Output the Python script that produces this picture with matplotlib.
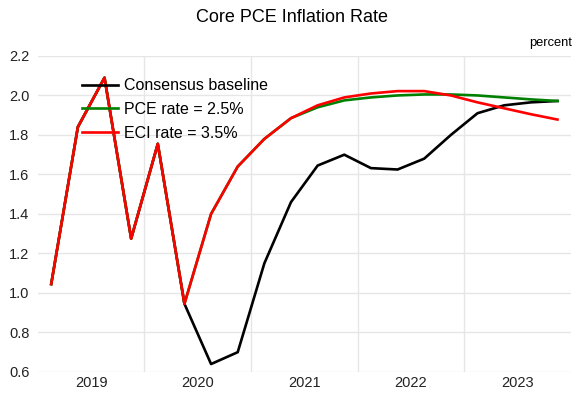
import matplotlib.pyplot as plt

plt.rcParams['font.family'] = ['Liberation Sans', 'DejaVu Sans']

years = ["2019", "2020", "2021", "2022", "2023"]
quarters = list(range(20))

consensus = [1.045, 1.84, 2.09, 1.275, 1.755, 0.945, 0.64, 0.70, 1.15, 1.46,
             1.645, 1.70, 1.632, 1.625, 1.68, 1.80, 1.91, 1.95, 1.965, 1.972]
pce_rate = [1.045, 1.84, 2.09, 1.275, 1.755, 0.945, 1.40, 1.64, 1.78, 1.885,
            1.94, 1.975, 1.99, 2.0, 2.005, 2.005, 2.0, 1.99, 1.98, 1.972]
eci_rate = [1.045, 1.84, 2.09, 1.275, 1.755, 0.945, 1.40, 1.64, 1.78, 1.885,
            1.95, 1.99, 2.01, 2.022, 2.022, 2.0, 1.965, 1.935, 1.905, 1.878]

fig = plt.figure(figsize=(5.83, 3.94), dpi=100)
ax = fig.add_axes([0.065, 0.056, 0.914, 0.802])

ax.plot(quarters, consensus, color="black", lw=1.9, label="Consensus baseline")
ax.plot(quarters, pce_rate, color="#008000", lw=1.9, label="PCE rate = 2.5%")
ax.plot(quarters, eci_rate, color="#ff0000", lw=1.9, label="ECI rate = 3.5%")

ax.set_xlim(-0.5, 19.5)
ax.set_ylim(0.6, 2.2)
ax.set_yticks([0.6, 0.8, 1.0, 1.2, 1.4, 1.6, 1.8, 2.0, 2.2])
ax.set_yticklabels(["0.6", "0.8", "1.0", "1.2", "1.4", "1.6", "1.8", "2.0", "2.2"])
ax.set_xticks([1.5, 5.5, 9.5, 13.5, 17.5])
ax.set_xticklabels(years)
ax.set_xticks([3.5, 7.5, 11.5, 15.5], minor=True)
ax.tick_params(which="both", length=0, labelsize=10.5, colors="#222222")
ax.tick_params(axis="x", pad=3)
ax.tick_params(axis="y", pad=6)
ax.grid(axis="y", which="major", color="#e6e6e6", lw=1)
ax.grid(axis="x", which="minor", color="#e6e6e6", lw=1)
ax.set_axisbelow(True)
for s in ax.spines.values():
    s.set_visible(False)

ax.legend(loc="upper left", bbox_to_anchor=(0.055, 0.975), frameon=False,
          fontsize=11.5, handlelength=2.25, handletextpad=0.4, labelspacing=0.55)

fig.text(0.5, 0.955, "Core PCE Inflation Rate", ha="center", va="center", fontsize=13)
fig.text(0.982, 0.89, "percent", ha="right", va="center", fontsize=9.3)

plt.savefig("out.png", dpi=100)
